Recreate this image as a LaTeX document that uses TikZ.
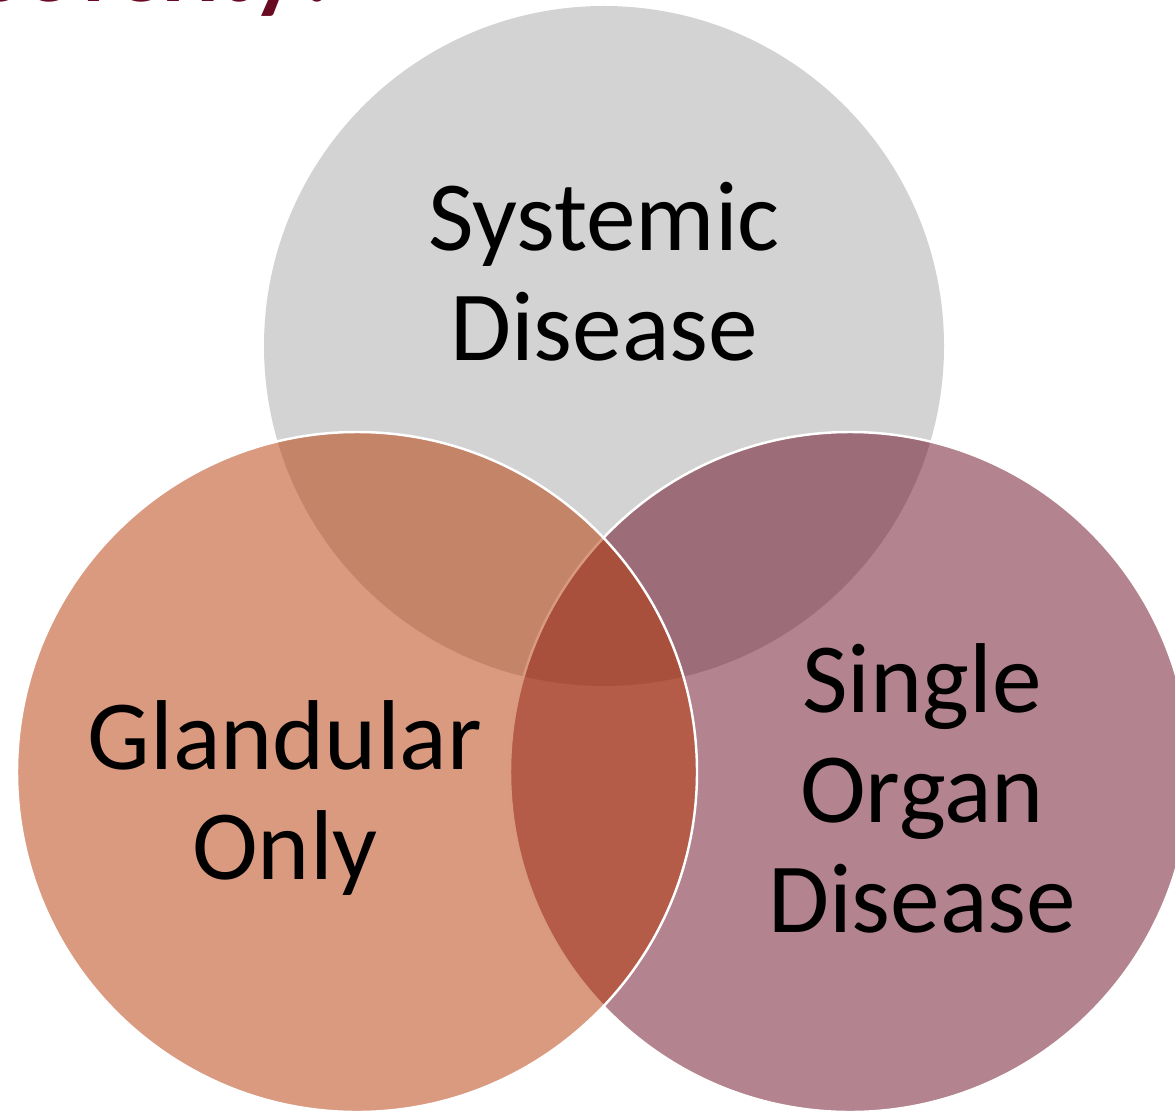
\documentclass[tikz,border=0pt]{standalone}
\usepackage{fontspec}
\setmainfont{Carlito}
\definecolor{grisT}{RGB}{167,167,167}
\definecolor{orangeG}{RGB}{181,53,0}
\definecolor{bordeauxO}{RGB}{103,9,31}
\definecolor{titreC}{RGB}{105,10,35}
\tikzset{
	cercle/.style={fill opacity=.5,draw opacity=1},
	etiquette/.style={align=center,inner sep=0pt,font=\fontsize{56.5pt}{62.6pt}\selectfont}
}
\begin{document}
\begin{tikzpicture}[x=0.02cm,y=-0.02cm]
	\def\r{340}
	\useasboundingbox (0,0) rectangle (1175,1111);
	\path
	(604,346) coordinate (T)
	(357,772) coordinate (G)
	(850,772) coordinate (O);
	\begin{scope}
	\clip (0,0) rectangle (1175,1111);
	\node[anchor=base east,inner sep=0pt,text=titreC,font=\fontsize{54pt}{60pt}\selectfont\bfseries] (titre) at (342,2) {Severity?};
	\fill[grisT,cercle] (T) circle(\r);
	\draw[white,line width=1.4pt,fill=bordeauxO,cercle] (O) circle(\r);
	\draw[white,line width=1.4pt,fill=orangeG,cercle] (G) circle(\r);
	\end{scope}
	\node[etiquette] (lblT) at (604,272) {Systemic\\Disease};
	\node[etiquette] (lblG) at (285,798) {Glandular\\Only};
	\node[etiquette] (lblO) at (922,788) {Single\\Organ\\Disease};
\end{tikzpicture}
\end{document}
